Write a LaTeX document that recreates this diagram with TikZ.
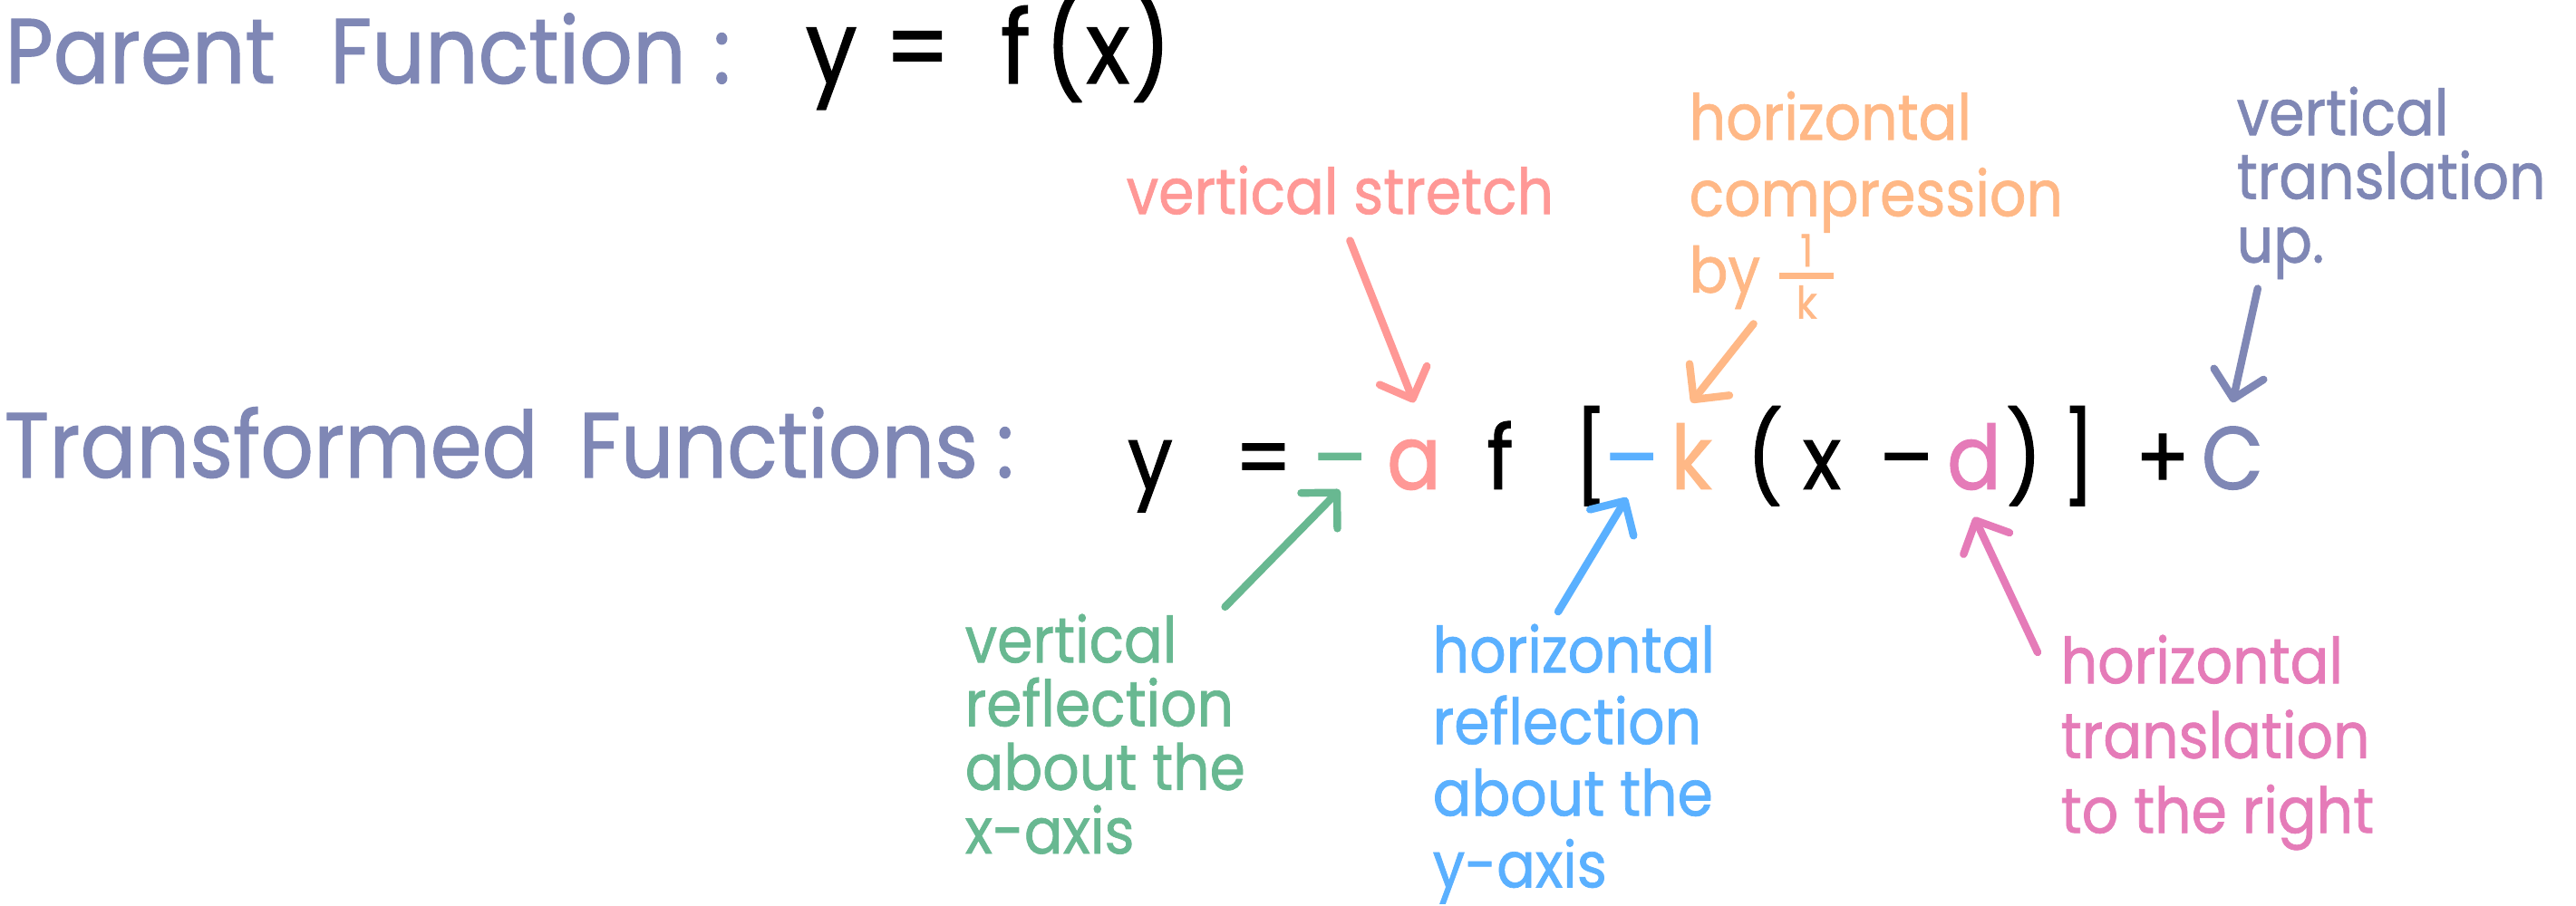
\documentclass[tikz,border=0pt]{standalone}
\usepackage{amsmath}
\usepackage{fontspec}
\usepackage{tikz}
\usetikzlibrary{arrows.meta,positioning}
\newfontfamily\hand[FakeStretch=0.9,FakeBold=1]{Poppins}
\definecolor{vstretch}{HTML}{FF9896}
\definecolor{hcomp}{HTML}{FFB886}
\definecolor{vtrans}{HTML}{7F87B5}
\definecolor{vrefl}{HTML}{68B891}
\definecolor{hrefl}{HTML}{5AB0FF}
\definecolor{htrans}{HTML}{E57BB8}
\tikzset{
  title/.style={font=\hand\fontsize{29}{34}\selectfont,text=vtrans,anchor=base west,inner sep=0pt},
  sym/.style={font=\hand\fontsize{28}{34}\selectfont,anchor=base,inner sep=0pt,
    text height=9.5mm,text depth=3mm},
  neg/.style={sym,text height=3mm,text depth=0mm},
  note/.style={font=\hand\fontsize{20}{#1}\selectfont,align=left,anchor=north west,inner sep=0pt},
  note/.default=23,
  arr/.style={-{Straight Barb[length=2.8mm,width=5.6mm,round]},line width=2.4pt,line cap=round}
}
\newcommand{\fracpart}[1]{\text{\fontsize{14}{14}\selectfont\makebox[6mm]{#1}}}
\newcommand{\onek}{\smash{\(\genfrac{}{}{2pt}{1}{\fracpart{1}}{\fracpart{k}}\)}}

\begin{document}
\begin{tikzpicture}
 \fill[white] (0,0) rectangle (28.42,-10);
 \useasboundingbox (0,0) rectangle (28.42,-10);
 % headings
 \node[title] (parent) at (0.05,-0.92) {Parent\hspace{0.6cm}Function\hspace{0.3cm}:};
 \node[title,text=black,font=\hand\fontsize{32}{36}\selectfont] (pfun) at (8.88,-0.92)
   {y\hspace{0.3cm}=\hspace{0.55cm}f\hspace{0.15cm}(x)};
 \node[title] (transf) at (0.04,-5.27) {Transformed\hspace{0.45cm}Functions\hspace{0.2cm}:};
 % transformed function, one node per symbol
 \node[sym] (y) at (12.69,-5.40) {y};
 \node[sym] (eq) at (13.94,-5.40) {=};
 \node[neg,text=vrefl] (gneg) at (14.78,-5.40) {–};
 \node[sym,text=vstretch] (a) at (15.60,-5.40) {a};
 \node[sym] (f) at (16.55,-5.40) {f};
 \node[sym] (lbrk) at (17.55,-5.40) {[};
 \node[neg,text=hrefl] (bneg) at (18.00,-5.40) {–};
 \node[sym,text=hcomp] (k) at (18.66,-5.40) {k};
 \node[sym] (lpar) at (19.47,-5.40) {(};
 \node[sym] (x) at (20.10,-5.40) {x};
 \node[sym] (sub) at (21.03,-5.40) {–};
 \node[sym,text=htrans] (d) at (21.78,-5.40) {d};
 \node[sym] (rpar) at (22.33,-5.40) {)};
 \node[sym] (rbrk) at (22.93,-5.40) {]};
 \node[sym] (plus) at (23.86,-5.40) {+};
 \node[sym,text=vtrans] (C) at (24.63,-5.40) {C};
 % notes
 \node[note,text=vstretch] (lstretch) at (12.42,-1.82) {vertical stretch};
 \node[note=24,text=hcomp] (lcomp) at (18.63,-1.00) {horizontal\\compression\\by \onek};
 \node[note=20,text=vtrans] (lvtrans) at (24.67,-0.95) {vertical\\translation\\up.};
 \node[note=20,text=vrefl] (lvrefl) at (10.64,-6.77) {vertical\\reflection\\about the\\x-axis};
 \node[note=22.5,text=hrefl] (lhrefl) at (15.80,-6.88) {horizontal\\reflection\\about the\\y-axis};
 \node[note=23.5,text=htrans] (lhtrans) at (22.73,-7.00) {horizontal\\translation\\to the right};
 % arrows
 \draw[arr,vstretch,shorten <=3mm] (lstretch.south) -- (a.north);
 \draw[arr,hcomp,shorten <=2mm] ([xshift=8.4mm]lcomp.south west) -- (k.north);
 \draw[arr,vtrans,shorten <=1mm] ([xshift=2.6mm]lvtrans.south west) -- (C.north);
 \draw[arr,vrefl,shorten <=1mm] ([xshift=-3mm]lvrefl.north east) -- (gneg.south);
 \draw[arr,hrefl,shorten <=1.5mm,shorten >=1mm] ([xshift=-2.5mm]lhrefl.north) -- (bneg.south);
 \draw[arr,htrans] ([xshift=-2.5mm,yshift=-2mm]lhtrans.north west) -- (d.south);
\end{tikzpicture}
\end{document}
